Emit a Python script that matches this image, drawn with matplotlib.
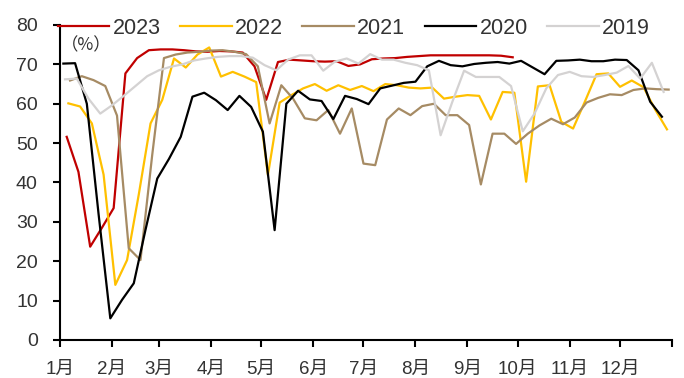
import matplotlib
matplotlib.use("Agg")
import matplotlib.pyplot as plt
import numpy as np
import pandas as pd

plt.rcParams['font.family'] = ['Liberation Sans', 'Noto Sans CJK SC', 'DejaVu Sans']

# weekly utilisation rate (%), one list per year
v2023 = [51.6, 42.7, 23.7, 28.5, 33.5, 67.7, 71.6, 73.6, 73.8, 73.8, 73.6, 73.3, 73.2,
         73.4, 73.3, 73.0, 69.5, 61.0, 70.6, 71.2, 71.0, 70.8, 70.7, 70.8, 69.6, 70.0,
         71.3, 71.5, 71.6, 71.9, 72.1, 72.3, 72.3, 72.3, 72.3, 72.3, 72.3, 72.2, 71.8]
v2022 = [60.1, 59.3, 55.0, 42.0, 14.0, 20.3, 37.0, 55.0, 61.0, 71.5, 69.2, 72.5, 74.3,
         66.9, 68.1, 66.9, 65.5, 41.9, 60.3, 62.2, 63.9, 65.0, 63.3, 64.7, 63.5, 64.5,
         63.2, 65.0, 64.7, 64.1, 63.9, 64.1, 61.3, 61.8, 62.2, 62.0, 56.0, 63.0, 62.8,
         40.2, 64.4, 64.7, 55.4, 53.7, 60.5, 67.5, 67.7, 64.3, 65.9, 64.2, 58.5, 53.5]
v2021 = [65.9, 67.0, 66.0, 64.5, 57.0, 23.3, 20.3, 47.0, 71.6, 72.5, 73.0, 73.2, 73.5,
         73.6, 73.2, 72.6, 69.5, 55.0, 64.7, 61.3, 56.3, 55.8, 58.4, 52.4, 58.8, 44.8,
         44.4, 56.0, 58.8, 57.1, 59.4, 60.0, 57.1, 57.1, 54.6, 39.5, 52.4, 52.4, 49.8,
         52.4, 54.5, 56.2, 54.8, 56.5, 60.3, 61.5, 62.4, 62.2, 63.5, 63.9, 63.7, 63.6]
v2020 = [70.2, 70.3, 60.0, 32.0, 5.5, 10.2, 14.4, 28.0, 41.0, 46.0, 51.6, 61.8, 62.8,
         60.9, 58.4, 62.0, 59.2, 52.9, 27.9, 60.0, 63.3, 61.1, 60.7, 56.1, 62.0, 61.2,
         59.9, 63.9, 64.6, 65.3, 65.6, 69.5, 70.9, 69.8, 69.5, 70.1, 70.4, 70.6, 70.2,
         70.9, 69.2, 67.5, 70.9, 71.0, 71.2, 70.8, 70.8, 71.2, 71.1, 68.5, 60.5, 56.7]
v2019 = [66.2, 66.4, 61.3, 57.5, 59.6, 62.0, 64.5, 67.0, 68.5, 69.4, 70.0, 71.0, 71.5,
         71.9, 72.1, 72.1, 71.7, 69.8, 68.5, 71.2, 72.3, 72.3, 68.4, 70.7, 71.5, 70.2,
         72.6, 71.2, 71.2, 70.4, 69.8, 68.5, 52.0, 60.5, 68.4, 66.8, 66.8, 66.8, 64.5,
         53.0, 57.5, 63.9, 67.3, 68.1, 67.0, 66.8, 67.3, 67.9, 69.6, 66.4, 70.4, 63.0]

years = ['2023', '2022', '2021', '2020', '2019']
first_dates = ['2023-01-05', '2022-01-06', '2021-01-07', '2020-01-03', '2019-01-04']
values = [v2023, v2022, v2021, v2020, v2019]
colors = ['#C00000', '#FFC000', '#A68B64', '#000000', '#D4D2D2']

month_labels = ['1月', '2月', '3月', '4月', '5月', '6月', '7月', '8月', '9月', '10月', '11月', '12月']

fig = plt.figure(figsize=(6.84, 3.78), dpi=100)
ax = fig.add_axes([60/684, 1-340/378, 612/684, 315/378])

for yr, d0, v, c in zip(years, first_dates, values, colors):
    dates = pd.date_range(d0, periods=len(v), freq='7D')
    doy = (dates - pd.Timestamp(yr + '-01-01')).days
    ax.plot(doy, v, color=c, lw=1.6, label=yr)

month_starts = (pd.date_range('2021-01-01', periods=13, freq='MS') - pd.Timestamp('2021-01-01')).days
ax.set_xlim(0, 365)
ax.set_ylim(0, 80)
ax.set_xticks(month_starts)
ax.set_xticklabels(month_labels + [''])
ax.set_yticks(np.arange(0, 81, 10))

for s in ['top', 'right']:
    ax.spines[s].set_visible(False)
for s in ['left', 'bottom']:
    ax.spines[s].set_linewidth(1.5)
ax.tick_params(axis='y', direction='out', length=5, width=1.5, pad=11, labelsize=14)
ax.tick_params(axis='x', direction='out', length=5, width=1.5, pad=10, labelsize=13.5)
for lab in ax.get_yticklabels() + ax.get_xticklabels():
    lab.set_color('#333333')

fig.text(61/684, 1-45/378, '（%）', fontsize=12.5, color='#333333', va='center', ha='left',
         family=['Noto Sans CJK SC', 'DejaVu Sans'])

fig.legend(loc='center left', bbox_to_anchor=(47/684, 1-28/378), ncol=5, frameon=False,
           fontsize=15.5, handlelength=2.4, handletextpad=0.15, columnspacing=0.9,
           borderpad=0, labelcolor='#333333')

fig.savefig('out.png', dpi=100)
